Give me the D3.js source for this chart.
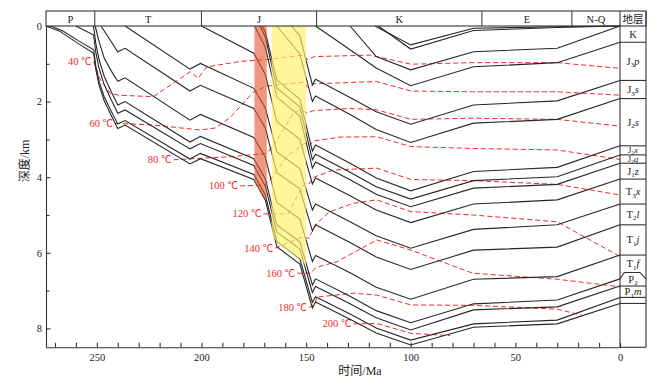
<!DOCTYPE html>
<html><head><meta charset="utf-8">
<script src="https://cdn.jsdelivr.net/npm/d3@7"></script>
<style>
body{margin:0;background:#fff;}
svg text{font-family:"Liberation Serif","Times New Roman","Noto Sans CJK SC",serif;}
</style></head>
<body><svg id="c" width="669" height="385"></svg>
<script>
// ---------------- DATA ----------------
const periods = [
  {name:"P", from:274.3, to:251},
  {name:"T", from:251, to:200},
  {name:"J", from:200, to:145},
  {name:"K", from:145, to:66},
  {name:"E", from:66, to:23},
  {name:"N-Q", from:23, to:0}
];
const xTickValues = [270,260,250,240,230,220,210,200,190,180,170,160,150,140,130,120,110,100,90,80,70,60,50,40,30,20,10,0];
const xTickLabels = [250,200,150,100,50,0];
const yTickValues = [0,1,2,3,4,5,6,7,8];
const yTickLabels = [0,2,4,6,8];

// burial curves [age Ma, depth km]
const lineK_a = [[117.1,0],[100,0.50],[70,0.06],[30,0.02],[0,0]];
const lineK_b = [[115.5,0],[100,0.61],[70,0.12],[30,0.04],[0,0]];
const lineKtop = [[129,0],[116.5,0.81],[100,1.16],[70,0.68],[30,0.59],[0,0]];
const lineJ3pTop = [[145.5,0],[129,0.63],[116.5,1.11],[100,1.58],[70,1.08],[30,0.97],[0,0.43]];
const lineJ3sTop = [[157,0],[153,0.26],[147,1.56],[145.5,1.41],[129,1.89],[116.5,2.27],[100,2.60],[70,2.09],[30,1.98],[0,1.44]];
const lineJ2sTop = [[164,0],[153,0.74],[147,2.0],[145.5,1.85],[129,2.34],[116.5,2.74],[100,3.08],[70,2.57],[30,2.47],[0,1.92]];
const lineJ2xTop = [[171,0],[169.5,0.16],[164,1.43],[153,1.93],[147,3.31],[145.5,3.15],[129,3.63],[116.5,4.02],[100,4.36],[70,3.85],[30,3.74],[0,3.17]];
const lineJ2qTop = [[172,0],[169.5,0.29],[164,1.64],[153,2.14],[147,3.54],[145.5,3.39],[129,3.87],[116.5,4.25],[100,4.58],[70,4.09],[30,3.99],[0,3.41]];
const lineJ1zTop = [[174.6,0],[169.5,0.56],[164,1.88],[153,2.38],[147,3.76],[145.5,3.60],[129,4.07],[116.5,4.45],[100,4.78],[70,4.29],[30,4.19],[0,3.63]];
const lineT3xTop = [[200,0],[175,0.72],[169.5,1.28],[164,2.53],[153,3.0],[147,4.18],[145.5,4.02],[129,4.49],[116.5,4.87],[100,5.20],[70,4.71],[30,4.60],[0,4.05]];
const lineT2lTop = [[236.5,0],[205.5,1.14],[200.5,0.99],[175,1.65],[169.5,2.16],[164,3.33],[153,3.77],[147,4.87],[145.5,4.71],[129,5.18],[116.5,5.55],[100,5.88],[70,5.38],[30,5.26],[0,4.71]];
const lineT1jTop = [[248,0],[240,0.68],[236.5,0.59],[205.5,1.72],[200.5,1.57],[175,2.18],[169.5,2.70],[164,3.88],[153,4.31],[147,5.42],[145.5,5.26],[129,5.73],[116.5,6.11],[100,6.44],[70,5.93],[30,5.85],[0,5.26]];
const lineT1fTop = [[250.8,0],[249,0.40],[246.5,0.85],[243,1.2],[240,1.46],[236.5,1.37],[205.5,2.49],[200.5,2.34],[175,2.95],[169.5,3.47],[164,4.67],[153,5.11],[147,6.23],[145.5,6.07],[129,6.53],[116.5,6.91],[100,7.23],[70,6.70],[30,6.63],[0,6.06]];
const lineP2Top = [[251.6,0],[250.5,0.46],[249,0.88],[246.5,1.33],[243,1.75],[240,2.09],[236.5,2.0],[205.5,3.07],[200.5,2.92],[175,3.51],[169.5,4.04],[164,5.26],[153,5.71],[147,6.85],[145.5,6.69],[129,7.15],[116.5,7.53],[100,7.85],[70,7.35],[30,7.25],[0,6.69]];
const lineP1mTop = [[260,0],[251.5,0.24],[250.5,0.70],[249,1.11],[246.5,1.55],[243,1.97],[240,2.31],[236.5,2.22],[205.5,3.25],[200.5,3.11],[175,3.69],[169.5,4.23],[164,5.45],[153,5.90],[147,7.05],[145.5,6.89],[129,7.35],[116.5,7.72],[100,8.04],[70,7.51],[30,7.43],[0,6.88]];
const lineP1mBase = [[272,0],[266,0.14],[258.5,0.40],[251.5,0.63],[250.5,1.06],[249,1.45],[246.5,1.87],[243,2.27],[240,2.59],[236.5,2.5],[205.5,3.52],[200.5,3.37],[175,3.93],[169.5,4.47],[164,5.70],[153,6.16],[147,7.31],[145.5,7.16],[129,7.62],[116.5,7.99],[100,8.31],[70,7.88],[30,7.78],[0,7.18]];
const lineBottom = [[274.3,0],[268,0.13],[259,0.46],[251.5,0.72],[250.5,1.15],[249,1.55],[246.5,1.98],[243,2.38],[240,2.71],[236.5,2.62],[205.5,3.65],[200.5,3.51],[175,4.06],[169.5,4.60],[164,5.84],[153,6.30],[147,7.46],[145.5,7.30],[129,7.76],[116.5,8.12],[100,8.44],[70,7.97],[30,7.88],[0,7.34]];

// isotherms [age Ma, depth km]
const iso40 = [[251.6,0.94],[248.2,1.43],[243.7,1.78],[239.7,1.83],[223.0,1.87],[205.4,1.21],[201.5,1.38],[197.5,1.08],[181.6,0.94],[175.2,0.91],[168.8,0.89],[151.3,0.77],[149.1,0.90],[146.2,0.81],[119.4,0.77],[99.9,1.01],[70.4,0.97],[30.0,0.97],[0,1.12]];
const iso60 = [[241.3,2.57],[223.0,2.62],[200.7,2.75],[193.5,2.70],[186.4,2.43],[175.2,1.75],[168.8,1.59],[151.3,1.49],[149.1,1.63],[146.2,1.53],[116.2,1.47],[99.9,1.72],[70.4,1.74],[30.0,1.74],[0,1.83]];
const iso80 = [[213.4,3.54],[200.7,3.50],[186.4,3.46],[168.8,3.37],[164.8,3.10],[156.1,2.31],[152.9,2.22],[149.5,2.30],[146.5,2.24],[129.0,2.18],[116.2,2.22],[99.9,2.47],[70.4,2.44],[30.0,2.47],[0,2.65]];
const iso100 = [[181.6,4.23],[169.6,4.21],[166.3,4.02],[159.1,3.44],[150.5,3.10],[148.6,3.17],[146.2,3.04],[133.8,2.94],[116.2,2.93],[99.9,3.19],[70.4,3.24],[30.0,3.28],[0,3.53]];
const iso120 = [[170.4,4.97],[158.5,4.97],[154.5,4.52],[150.5,4.15],[148.6,4.18],[146.2,4.0],[137.0,3.81],[116.2,3.76],[99.9,4.06],[70.4,4.09],[30.0,4.19],[0,4.47]];
const iso140 = [[164.8,5.88],[159.2,5.75],[151.3,5.57],[148.9,5.62],[144.9,5.22],[138.6,4.91],[127.4,4.69],[116.2,4.60],[99.9,4.91],[70.4,5.0],[30.0,5.18],[0,6.10]];
const iso160 = [[154.3,6.54],[148.1,6.54],[144.9,6.38],[135.4,6.24],[116.2,5.66],[99.9,5.93],[70.4,6.54],[30.0,6.70],[0,6.90]];
const iso180 = [[148.6,7.46],[145.7,7.34],[144.8,7.17],[127.4,7.07],[116.2,7.12],[99.9,7.38],[70.4,7.39],[30.0,7.49],[18.3,7.65]];
const iso200 = [[127.4,7.88],[116.2,7.87],[99.9,8.13],[81.2,8.19]];
const isoLabels = ["40 ℃","60 ℃","80 ℃","100 ℃","120 ℃","140 ℃","160 ℃","180 ℃","200 ℃"];

// highlighted windows [age, depth]
const redBand = [[174.7,0],[168.8,0],[168.8,4.62],[174.7,4.15]];
const yellowBand = [[166.5,0],[150.0,0],[150.0,6.40],[151.7,6.22],[164,5.74],[166.5,5.5]];

// stratum legend (names between present-day horizons)
const strataNames = [["K","",""],["J","3","p"],["J","3","s"],["J","2","s"],["J","2","x"],["J","2","q"],["J","1","z"],["T","3","x"],["T","2","l"],["T","1","j"],["T","1","f"],["P","2",""],["P","1","m"]];
const p2TopDepth = 6.52;

// ---------------- DRAW ----------------
const svg = d3.select("#c");
const x = d3.scaleLinear().domain([274.3,0]).range([46,620]);
const y = d3.scaleLinear().domain([0,8.5]).range([26,347.3]);
const legL = 620, legR = 646, headTop = 11, headBot = 26;
const gen = d3.line().x(d=>x(d[0])).y(d=>y(d[1]));
const RED = "#f0282d";

const burial = [lineK_a,lineK_b,lineKtop,lineJ3pTop,lineJ3sTop,lineJ2sTop,lineJ2xTop,lineJ2qTop,lineJ1zTop,lineT3xTop,lineT2lTop,lineT1jTop,lineT1fTop,lineP2Top,lineP1mTop,lineP1mBase,lineBottom];
const isos = [iso40,iso60,iso80,iso100,iso120,iso140,iso160,iso180,iso200];

// isotherms
const gi = svg.append("g");
isos.forEach((pts,i)=>{
  gi.append("path").attr("d",gen(pts)).attr("fill","none").attr("stroke",RED)
    .attr("stroke-width",1).attr("stroke-dasharray","5,3");
  gi.append("text").attr("x",x(pts[0][0])-2).attr("y",y(pts[0][1])+3.5)
    .attr("text-anchor","end").attr("fill",RED).attr("font-size",10.5).text(isoLabels[i]);
});

// burial lines
const gb = svg.append("g");
burial.forEach(pts=>{
  gb.append("path").attr("d",gen(pts)).attr("fill","none").attr("stroke","#262626").attr("stroke-width",1.1).attr("stroke-linejoin","miter");
});

// bands on top (translucent)
const area = d3.line().x(d=>x(d[0])).y(d=>y(d[1])).curve(d3.curveLinearClosed);
svg.append("path").attr("d",area(redBand)).attr("fill","#e45a30").attr("opacity",0.62);
svg.append("path").attr("d",area(yellowBand)).attr("fill","#fff06a").attr("opacity",0.68);

// axes
const gx = svg.append("g").attr("transform",`translate(0,${y(8.5)})`)
  .call(d3.axisBottom(x).tickValues(xTickValues).tickSize(-4.5).tickSizeOuter(0).tickPadding(6)
  .tickFormat(d=>xTickLabels.includes(d)?d:""));
const gy = svg.append("g").attr("transform",`translate(${x(274.3)},0)`)
  .call(d3.axisLeft(y).tickValues(yTickValues).tickSize(-4.5).tickSizeOuter(0).tickPadding(4)
  .tickFormat(d=>yTickLabels.includes(d)?d:""));
gy.selectAll(".tick").filter(d=>!yTickLabels.includes(d)).select("line").attr("x2",3.5);
[gx,gy].forEach(g=>{
  g.selectAll("path,line").attr("stroke","#333").attr("stroke-width",1.1);
  g.selectAll("text").attr("font-size",10.5).attr("fill","#222")
   .style("font-family",'"Liberation Serif","Times New Roman",serif');
});

svg.append("text").attr("x",360).attr("y",375).attr("text-anchor","middle").attr("font-size",12).attr("fill","#222").text("时间/Ma");
svg.append("text").attr("transform","translate(29,161) rotate(-90)").attr("text-anchor","middle").attr("font-size",12).attr("fill","#222").text("深度/km");

// header
const gh = svg.append("g");
gh.append("rect").attr("x",x(274.3)).attr("y",headTop).attr("width",legR-x(274.3)).attr("height",headBot-headTop)
  .attr("fill","none").attr("stroke","#333").attr("stroke-width",1.1);
periods.forEach(p=>{
  if(p.to>0) gh.append("line").attr("x1",x(p.to)).attr("x2",x(p.to)).attr("y1",headTop).attr("y2",headBot).attr("stroke","#444").attr("stroke-width",1.1);
  gh.append("text").attr("x",(x(p.from)+x(p.to))/2).attr("y",22.5).attr("text-anchor","middle")
    .attr("font-size",10.5).attr("fill","#222").text(p.name);
});
gh.append("text").attr("x",(legL+legR)/2).attr("y",22.5).attr("text-anchor","middle").attr("font-size",10.5)
  .attr("fill","#222").style("font-family",'"Noto Sans CJK SC",sans-serif').text("地层");

// legend column
const gl = svg.append("g");
gl.append("line").attr("x1",legL).attr("x2",legL).attr("y1",headTop).attr("y2",y(8.5)).attr("stroke","#333").attr("stroke-width",1.1);
gl.append("line").attr("x1",legR).attr("x2",legR).attr("y1",headTop).attr("y2",y(8.5)).attr("stroke","#333").attr("stroke-width",1.1);
gl.append("line").attr("x1",legL).attr("x2",legR).attr("y1",y(8.5)).attr("y2",y(8.5)).attr("stroke","#333").attr("stroke-width",1.1);
const presentDepths = burial.slice(2).map(l=>l[l.length-1][1]);
presentDepths.forEach((d,i)=>{
  if(i===0) return;
  if(strataNames[i] && strataNames[i][0]==="P" && strataNames[i][1]==="2"){
    gl.append("path").attr("d",`M${legL},${y(d)}L${legL+4.3},${y(p2TopDepth)}L${legR-6},${y(p2TopDepth)}L${legR},${y(d)}`)
      .attr("fill","none").attr("stroke","#333").attr("stroke-width",1.1);
  } else {
    gl.append("line").attr("x1",legL).attr("x2",legR).attr("y1",y(d)).attr("y2",y(d)).attr("stroke","#333").attr("stroke-width",1.1);
  }
});
strataNames.forEach((n,i)=>{
  let top = presentDepths[i], bot = presentDepths[i+1];
  if(n[0]==="T" && n[1]==="1" && n[2]==="f") bot = p2TopDepth;
  if(n[0]==="P" && n[1]==="2") top = p2TopDepth;
  const small = (y(bot)-y(top)) < 10;
  const fs = small ? 8.5 : 10.5, fsub = small ? 6 : 7, sh = small ? 2 : 2.5;
  const t = gl.append("text").attr("x",(legL+legR)/2).attr("y",(y(top)+y(bot))/2+(small?2.5:3.5))
    .attr("text-anchor","middle").attr("font-size",fs).attr("fill","#222");
  t.append("tspan").text(n[0]);
  if(n[1]) t.append("tspan").attr("font-size",fsub).attr("dy",sh).text(n[1]);
  if(n[2]) t.append("tspan").attr("font-style","italic").attr("dy",n[1]?-sh:0).text(n[2]);
});
</script>
</body></html>
